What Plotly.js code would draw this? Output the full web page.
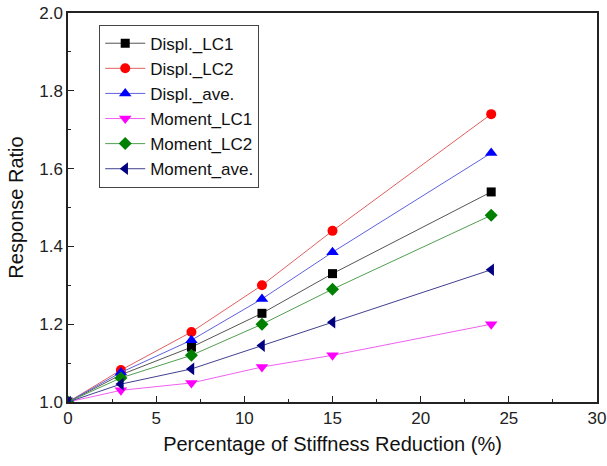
<!DOCTYPE html>
<html>
<head>
<meta charset="utf-8">
<script src="https://cdn.plot.ly/plotly-3.0.1.min.js"></script>
<style>html,body{margin:0;padding:0;background:#fff;}#chart{width:607px;height:466px;}</style>
</head>
<body>
<div id="chart"></div>
<script>
const stiffnessReduction = [0, 3, 7, 11, 15, 24];
const displLC1  = [1.00, 1.070, 1.141, 1.228, 1.330, 1.540];
const displLC2  = [1.00, 1.082, 1.180, 1.300, 1.440, 1.740];
const displAve  = [1.00, 1.076, 1.159, 1.265, 1.385, 1.640];
const momentLC1 = [1.00, 1.030, 1.049, 1.090, 1.120, 1.200];
const momentLC2 = [1.00, 1.062, 1.120, 1.200, 1.290, 1.480];
const momentAve = [1.00, 1.046, 1.085, 1.145, 1.205, 1.340];
const seriesNames = ['Displ._LC1', 'Displ._LC2', 'Displ._ave.', 'Moment_LC1', 'Moment_LC2', 'Moment_ave.'];

const seriesData = [displLC1, displLC2, displAve, momentLC1, momentLC2, momentAve];
const markerColors = ['#000000', '#ff0000', '#0000ff', '#ff00ff', '#008000', '#000080'];
const lineColors = ['#555555', '#e06060', '#6060e0', '#f060f0', '#50a050', '#404090'];
const symbols = ['square', 'circle', 'triangle-up', 'triangle-down', 'diamond', 'triangle-left'];
const sizes = [9, 10, 11, 11, 10, 11];

const traces = seriesData.map((ys, i) => ({
  x: stiffnessReduction,
  y: ys,
  name: seriesNames[i],
  type: 'scatter',
  mode: 'lines+markers',
  line: {color: lineColors[i], width: 1},
  marker: {color: markerColors[i], symbol: symbols[i], size: sizes[i]}
}));

const fam = 'Liberation Sans, Arial, sans-serif';
const axisFont = {family: fam, size: 17, color: '#222'};

const layout = {
  width: 607, height: 466,
  margin: {l: 68, r: 10, t: 13, b: 64},
  paper_bgcolor: '#fff', plot_bgcolor: '#fff',
  showlegend: true,
  legend: {
    x: 0.059, y: 0.97, xanchor: 'left', yanchor: 'top',
    bordercolor: '#444', borderwidth: 1, bgcolor: '#fff',
    font: {family: fam, size: 17, color: '#111'},
    tracegroupgap: 0, itemwidth: 40
  },
  xaxis: {
    range: [0, 30], dtick: 5, tick0: 0,
    ticks: 'inside', ticklen: 6, tickwidth: 1.2, tickcolor: '#222',
    minor: {ticks: 'inside', ticklen: 3, dtick: 2.5, tickcolor: '#222', tickwidth: 1},
    showline: true, linecolor: '#222', linewidth: 1.6, mirror: true,
    showgrid: false, zeroline: false,
    tickfont: axisFont,
    title: {text: 'Percentage of Stiffness Reduction (%)', font: {family: fam, size: 20, color: '#111'}, standoff: 10}
  },
  yaxis: {
    range: [1.0, 2.0], dtick: 0.2, tick0: 1.0, tickformat: '.1f',
    ticks: 'inside', ticklen: 6, tickwidth: 1.2, tickcolor: '#222',
    minor: {ticks: 'inside', ticklen: 3, dtick: 0.1, tickcolor: '#222', tickwidth: 1},
    showline: true, linecolor: '#222', linewidth: 1.6, mirror: true,
    showgrid: false, zeroline: false,
    tickfont: axisFont,
    title: {text: 'Response Ratio', font: {family: fam, size: 20, color: '#111'}, standoff: 10}
  }
};

Plotly.newPlot('chart', traces, layout, {displayModeBar: false, staticPlot: true});
</script>
</body>
</html>
